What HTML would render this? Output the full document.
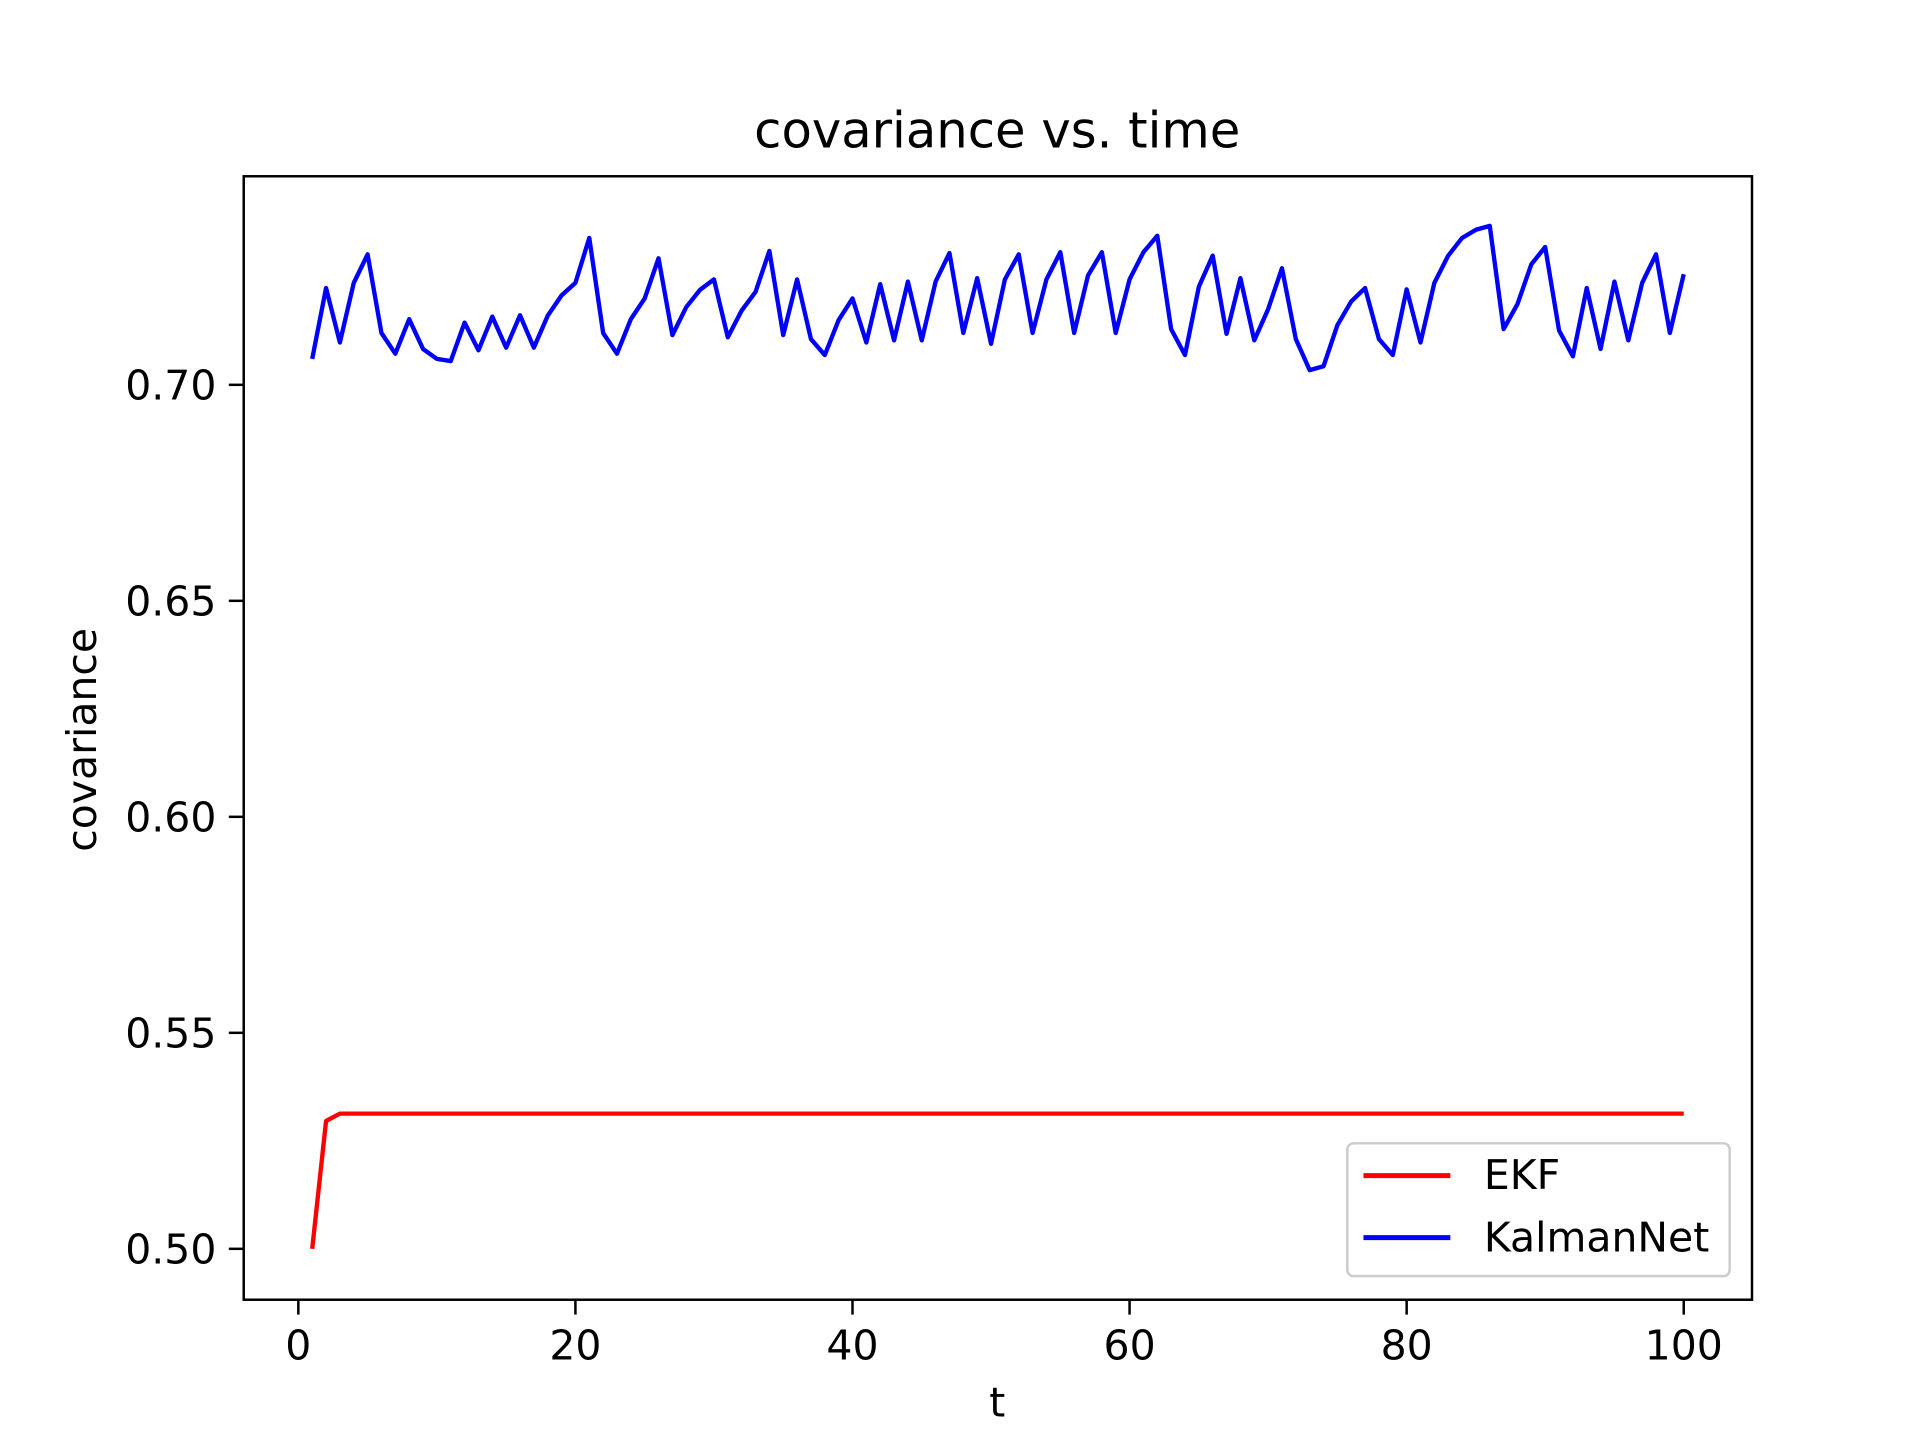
<!DOCTYPE html>
<html><head><meta charset="utf-8"><style>
html,body{margin:0;padding:0;background:#fff}
svg{display:block}
text{font-family:"DejaVu Sans","Liberation Sans",sans-serif;fill:#000}
</style></head><body>
<svg id="chart" width="1920" height="1440" viewBox="0 0 1546 1160" xmlns="http://www.w3.org/2000/svg">
<rect width="1546" height="1160" fill="#fff"/>
<text x="803" y="119" font-size="40" text-anchor="middle">covariance vs. time</text>
<g id="plot"></g>
<rect x="196" y="142" width="1215" height="905" fill="none" stroke="#000" stroke-width="2"/>
<text x="803" y="1141" font-size="33" text-anchor="middle">t</text>
<text transform="translate(77,596) rotate(-90)" font-size="33" text-anchor="middle">covariance</text>
<g>
<rect x="1085" y="921" width="308" height="107" rx="5" fill="#fff" fill-opacity="0.8" stroke="#ccc" stroke-width="2"/>
<g><line x1="1098" y1="947" x2="1168" y2="947" stroke="#f00" stroke-width="4"/><text x="1195" y="958" font-size="33">EKF</text></g>
<g><line x1="1098" y1="997" x2="1168" y2="997" stroke="#00f" stroke-width="4"/><text x="1195" y="1008" font-size="33">KalmanNet</text></g>
</g>
</svg>
<script>
const xTicks=[0,20,40,60,80,100];
const yTicks=[0.50,0.55,0.60,0.65,0.70];
const yTickLabels=["0.50","0.55","0.60","0.65","0.70"];
const ekf=[0.500,0.5296,0.5313];
const kalmanNet=[0.706,0.7224,0.7098,0.7236,0.7302,0.712,0.7072,0.7152,0.7083,0.706,0.7055,0.7144,0.708,0.7158,0.7086,0.7161,0.7086,0.716,0.7207,0.7236,0.734,0.712,0.7072,0.7152,0.720,0.7293,0.7115,0.718,0.722,0.7244,0.711,0.7172,0.7215,0.731,0.7115,0.7244,0.7106,0.7069,0.715,0.720,0.7098,0.7233,0.7103,0.7239,0.7103,0.7239,0.7305,0.712,0.7247,0.7095,0.7244,0.7302,0.712,0.7244,0.7307,0.712,0.7253,0.7307,0.712,0.7244,0.7307,0.7345,0.7129,0.7069,0.7227,0.7299,0.7118,0.7247,0.7103,0.7175,0.727,0.7106,0.7034,0.7043,0.7138,0.7193,0.7224,0.7106,0.7069,0.7221,0.7098,0.7236,0.7299,0.734,0.7359,0.7368,0.7129,0.7187,0.7279,0.7319,0.7126,0.7066,0.7224,0.7083,0.7239,0.7103,0.7236,0.7302,0.712,0.7256];
const ekfSteady=0.5313;
const NS="http://www.w3.org/2000/svg";
const X=t=>240+(t-0)*(1356-240)/100;
const Y=v=>310+(0.70-v)*3480;
const g=document.getElementById('plot');
function mk(tag,a){const e=document.createElementNS(NS,tag);for(const k in a)e.setAttribute(k,a[k]);g.appendChild(e);return e;}
xTicks.forEach(t=>{
 const l=mk('line',{x1:X(t),x2:X(t),y1:1047,y2:1059,stroke:'#000','stroke-width':2});
 
 
 const tx=mk('text',{x:X(t),y:1095,'font-size':33,'text-anchor':'middle'});tx.textContent=t;
 
 
});
yTicks.forEach((v,i)=>{
 const l=mk('line',{x1:184,x2:196,y1:Y(v),y2:Y(v),stroke:'#000','stroke-width':2});
 
 
 const tx=mk('text',{x:174,y:Y(v)+12,'font-size':33,'text-anchor':'end'});tx.textContent=yTickLabels[i];
 
 
});
const ekfAll=[];for(let i=0;i<100;i++)ekfAll.push(i<ekf.length?ekf[i]:ekfSteady);
const p1=mk('polyline',{points:ekfAll.map((v,i)=>X(i+1)+','+Y(v)).join(' '),fill:'none',stroke:'#f00','stroke-width':3.5,'stroke-linejoin':'round'});


const p2=mk('polyline',{points:kalmanNet.map((v,i)=>X(i+1)+','+Y(v)).join(' '),fill:'none',stroke:'#00f','stroke-width':3.5,'stroke-linejoin':'round'});


</script>
</body></html>
